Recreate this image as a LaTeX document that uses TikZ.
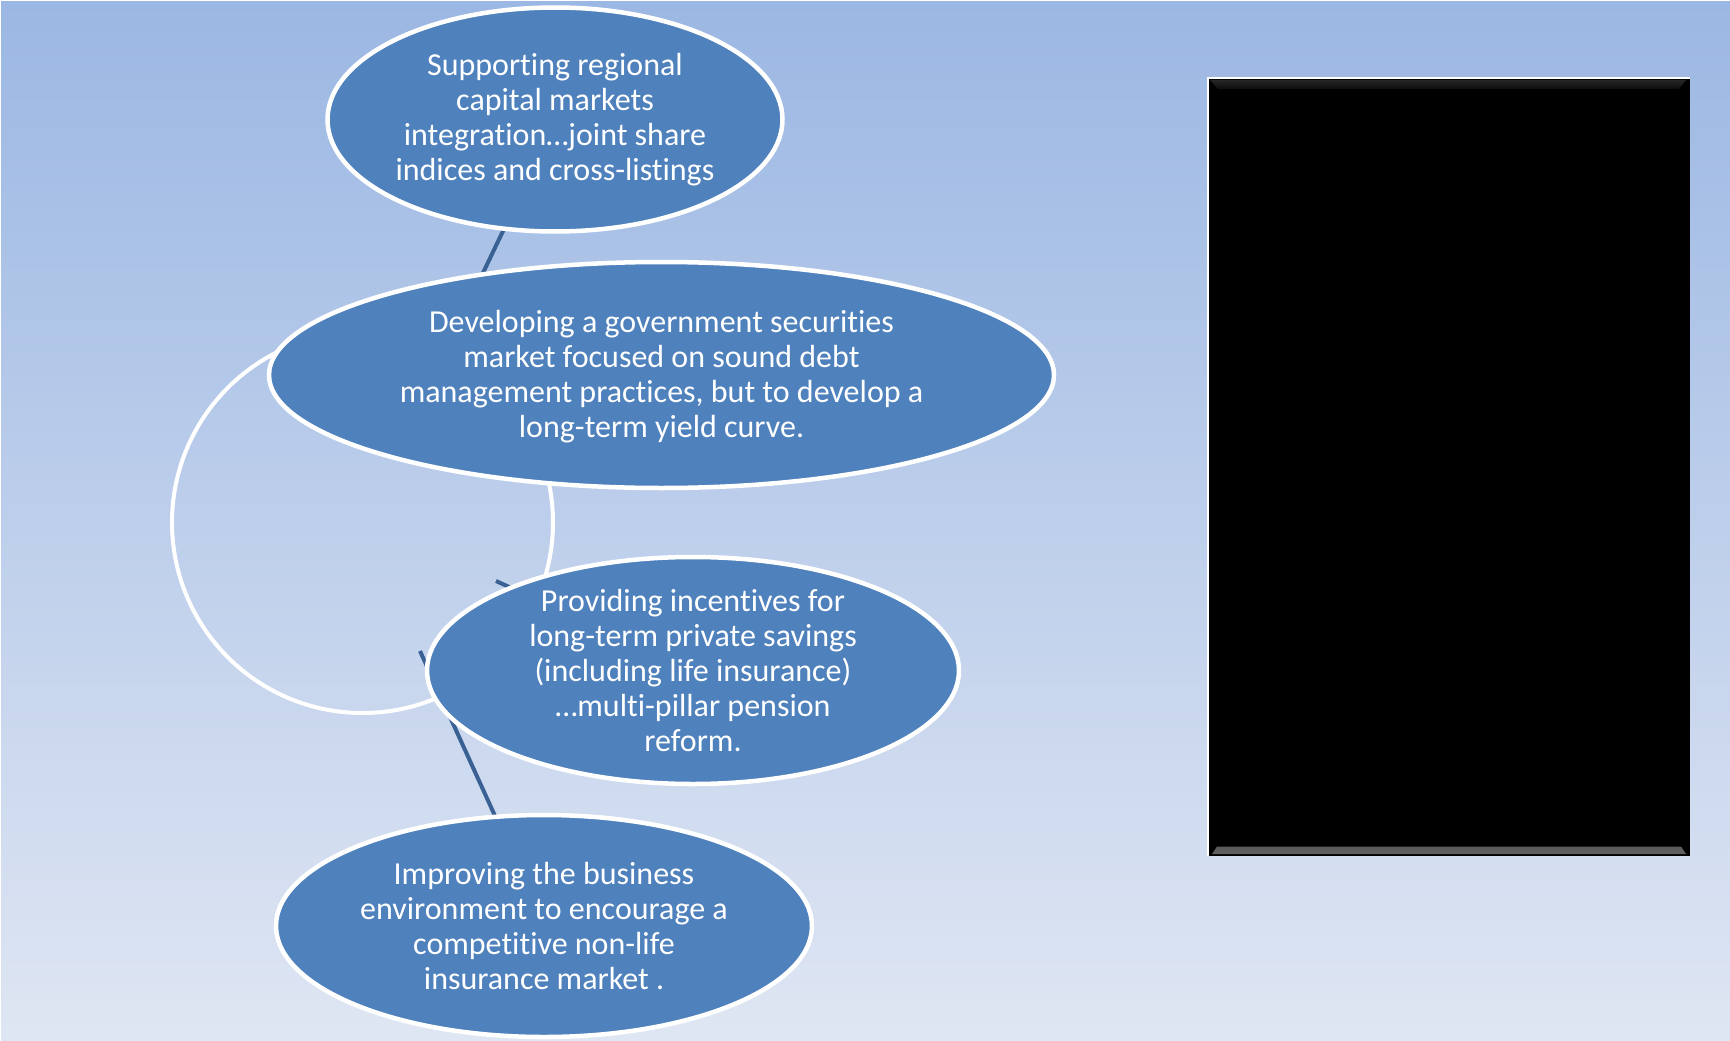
\documentclass[tikz,border=0pt]{standalone}
\usepackage{fontspec}
\setmainfont{Carlito}[Ligatures=NoCommon]
\usetikzlibrary{shapes.geometric}
\definecolor{bubblefill}{HTML}{4F81BD}
\definecolor{connblue}{HTML}{3A6194}
\definecolor{skytop}{HTML}{9BB7E3}
\definecolor{skymid}{HTML}{BDCDEB}
\definecolor{skybottom}{HTML}{DFE6F3}
\definecolor{bevelhi}{HTML}{4A4E56}
\pgfdeclarelayer{bg}
\pgfdeclarelayer{back}
\pgfsetlayers{bg,back,main}
% keeps "t" and "i" as separate glyphs
\newcommand\nolig{\kern0pt}

\begin{document}
\begin{tikzpicture}[x=1pt,y=-1pt,
  bubble/.style={ellipse, draw=white, line width=4.5pt, fill=bubblefill, inner sep=0pt},
  bubbletext/.style={text=white, align=center, inner sep=0pt,
    font=\fontsize{32}{35}\selectfont},
  conn/.style={draw=connblue, line width=4pt},
  ring/.style={circle, draw=white, line width=4pt, inner sep=0pt}]

\useasboundingbox (0,0) rectangle (1730,1041);

% backdrop
\begin{pgfonlayer}{bg}
  \shade[top color=skytop, middle color=skymid, bottom color=skybottom]
    (0,0) rectangle (1730,1041);
  \draw[white, line width=2pt] (0,1041) -- (0,0) -- (1730,0);
\end{pgfonlayer}

% bubbles
\node[bubble, minimum width=455pt, minimum height=224pt] (e1) at (555,119.5) {};
\node[bubbletext] (t1) at (e1.center)
  {Support\nolig ing regional\\capital markets\\integrat\nolig ion…joint share\\indices and cross-list\nolig ings};

\node[bubble, minimum width=785pt, minimum height=226pt] (e2) at (661.5,375) {};
\node[bubbletext] (t2) at ([yshift=-2pt]e2.center)
  {Developing a government securit\nolig ies\\market focused on sound debt\\management pract\nolig ices, but to develop a\\long-term yield curve.};

\node[bubble, minimum width=532pt, minimum height=227pt] (e3) at (693,670.5) {};
\node[bubbletext] (t3) at (e3.center)
  {Providing incent\nolig ives for\\long-term private savings\\(including life insurance)\\…multi-pillar pension\\reform.};

\node[bubble, minimum width=536pt, minimum height=222pt] (e4) at (544,926) {};
\node[bubbletext] (t4) at (e4.center)
  {Improving the business\\environment to encourage a\\compet\nolig it\nolig ive non-life\\insurance market .};

% ring and connectors behind the bubbles
\coordinate (s2) at (496,581);
\coordinate (s3) at (420,651);
\begin{pgfonlayer}{back}
  \node[ring, minimum size=381pt] (loop) at (362.5,522.5) {};
  \draw[conn, shorten <=-4pt, shorten >=-4pt] (e1.245) -- (e2.150);
  \draw[conn, shorten >=-4pt] (s3) -- (e4.114);
  \draw[conn] (s2) -- (e3.center);
\end{pgfonlayer}

% black panel with bevelled edges
\node[fill=black, minimum width=482pt, minimum height=778pt, inner sep=0pt]
  (panel) at (1449,467) {};
\shade[top color=black!85, middle color=bevelhi, bottom color=black!95]
  (1210,80) -- (1686,80) -- (1679,89) -- (1218,89) -- cycle;
\shade[top color=black!65, middle color=black!45, bottom color=black!62]
  (1217,846.5) -- (1681,846.5) -- (1686,854) -- (1212,854) -- cycle;
\draw[white, line width=1.5pt] (panel.south west) -- (panel.north west) -- (panel.north east);

\end{tikzpicture}
\end{document}
